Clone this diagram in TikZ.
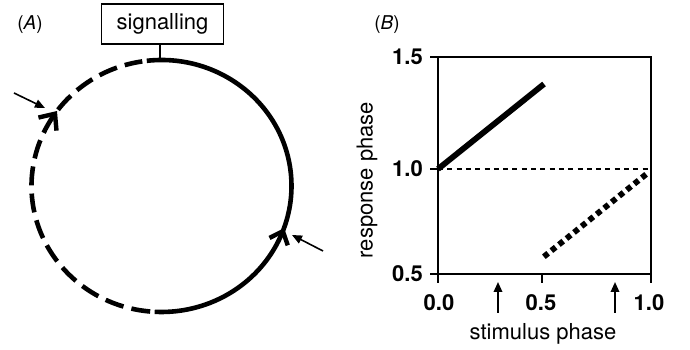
\documentclass[tikz,border=0pt]{standalone}
\usepackage{fontspec}
\setmainfont{TeX Gyre Heros}
\usetikzlibrary{arrows.meta,calc}
\begin{document}
\begin{tikzpicture}[x=1pt,y=1pt,
  txt/.style={font=\fontsize{22}{26}\selectfont, inner sep=0pt},
  num/.style={font=\fontsize{22}{26}\selectfont\bfseries, inner sep=0pt},
  panel/.style={font=\fontsize{19}{23}\selectfont, inner sep=0pt},
  sigbox/.style={draw, line width=1.5pt, minimum width=121.6pt, minimum height=40pt, inner sep=0pt, font=\fontsize{22}{26}\selectfont},
  solidarc/.style={line width=4.6pt},
  dasharc/.style={line width=4.6pt, dash pattern=on 19pt off 8.2pt},
  barb/.style={line width=4.4pt, line join=miter},
  ptr/.style={line width=1.6pt, -{Triangle[length=10pt,width=8.5pt]}},
  axis/.style={line width=1.8pt},
  tick/.style={line width=1.8pt},
  fit1/.style={line width=5.8pt},
  fit2/.style={line width=5.8pt, dash pattern=on 5.5pt off 4.18pt},
  ref/.style={line width=1.2pt, dash pattern=on 5pt off 4.3pt},
  stim/.style={line width=1.8pt, -{Triangle[length=10pt,width=8.5pt]}}]
\useasboundingbox (0,0) rectangle (690,350);

% ---------- panel A ----------
\node[panel] (labA) at (30,325) {(\textit{A})};
\coordinate (c) at (161.5,164);
\draw[solidarc] ($(c)+(96.5:130 and 126)$) arc[start angle=96.5, end angle=-93, x radius=130, y radius=126];
\draw[dasharc] ($(c)+(265:130 and 126)$) arc[start angle=265, end angle=98.5, x radius=130, y radius=126];

\coordinate (tl) at ($(c)+(145:130 and 126)$);
\draw[barb] ($(tl)+(193:17)$) -- (tl) -- ($(tl)+(275:17)$);
\coordinate (tr) at ($(c)+(-21:130 and 126)$);
\draw[barb] ($(tr)+(207:15)$) -- (tr) -- ($(tr)+(289:15)$);

\coordinate (la0) at (14,257); \coordinate (la1) at (45,242);
\draw[ptr] (la0) -- (la1);
\coordinate (ra0) at (323,99); \coordinate (ra1) at (292,115);
\draw[ptr] (ra0) -- (ra1);

\node[sigbox] (sig) at (162.5,326) {signalling};
\coordinate (ct) at ($(c)+(90.7:130 and 126)$);
\draw[line width=1.5pt] (sig.south -| ct) -- (ct);

% ---------- panel B ----------
\node[panel] (labB) at (387,325) {(\textit{B})};
\coordinate (o) at (438,76);
\coordinate (tr2) at (651,293);
\coordinate (y10) at (438,181);
\coordinate (y10r) at (651,181);
\draw[axis] (o) rectangle (tr2);
\draw[tick] (o) -- ++(-8,0);
\draw[tick] (y10) -- ++(-8,0);
\draw[tick] (o |- tr2) -- ++(-8,0);
\coordinate (x05) at (542,76);
\draw[tick] (o) -- ++(0,-9);
\draw[tick] (x05) -- ++(0,-9);
\draw[tick] (tr2 |- o) -- ++(0,-9);

\node[num, anchor=east] (t15) at (423,293) {1.5};
\node[num, anchor=east] (t10) at (423,181) {1.0};
\node[num, anchor=east] (t05) at (423,76) {0.5};
\node[num] (s00) at (439,47.5) {0.0};
\node[num] (s05) at (541,47.5) {0.5};
\node[num] (s10) at (649,47.5) {1.0};

\node[txt, anchor=base] (xlab) at (543,10) {stimulus phase};
\node[txt, rotate=90] (ylab) at (367,170) {response phase};

\draw[ref] (y10) -- (y10r);
\coordinate (f1e) at (544,266);
\draw[fit1] (y10) -- (f1e);
\coordinate (p1) at (546,95);
\coordinate (p2) at (644,174);
\draw[fit2] ($(p1)!-2.75pt!(p2)$) -- ($(p2)!-2.75pt!(p1)$);

\coordinate (a1s) at (498,37); \coordinate (a1e) at (498,68);
\coordinate (a2s) at (615,37); \coordinate (a2e) at (615,68);
\draw[stim] (a1s) -- (a1e);
\draw[stim] (a2s) -- (a2e);
\end{tikzpicture}
\end{document}
